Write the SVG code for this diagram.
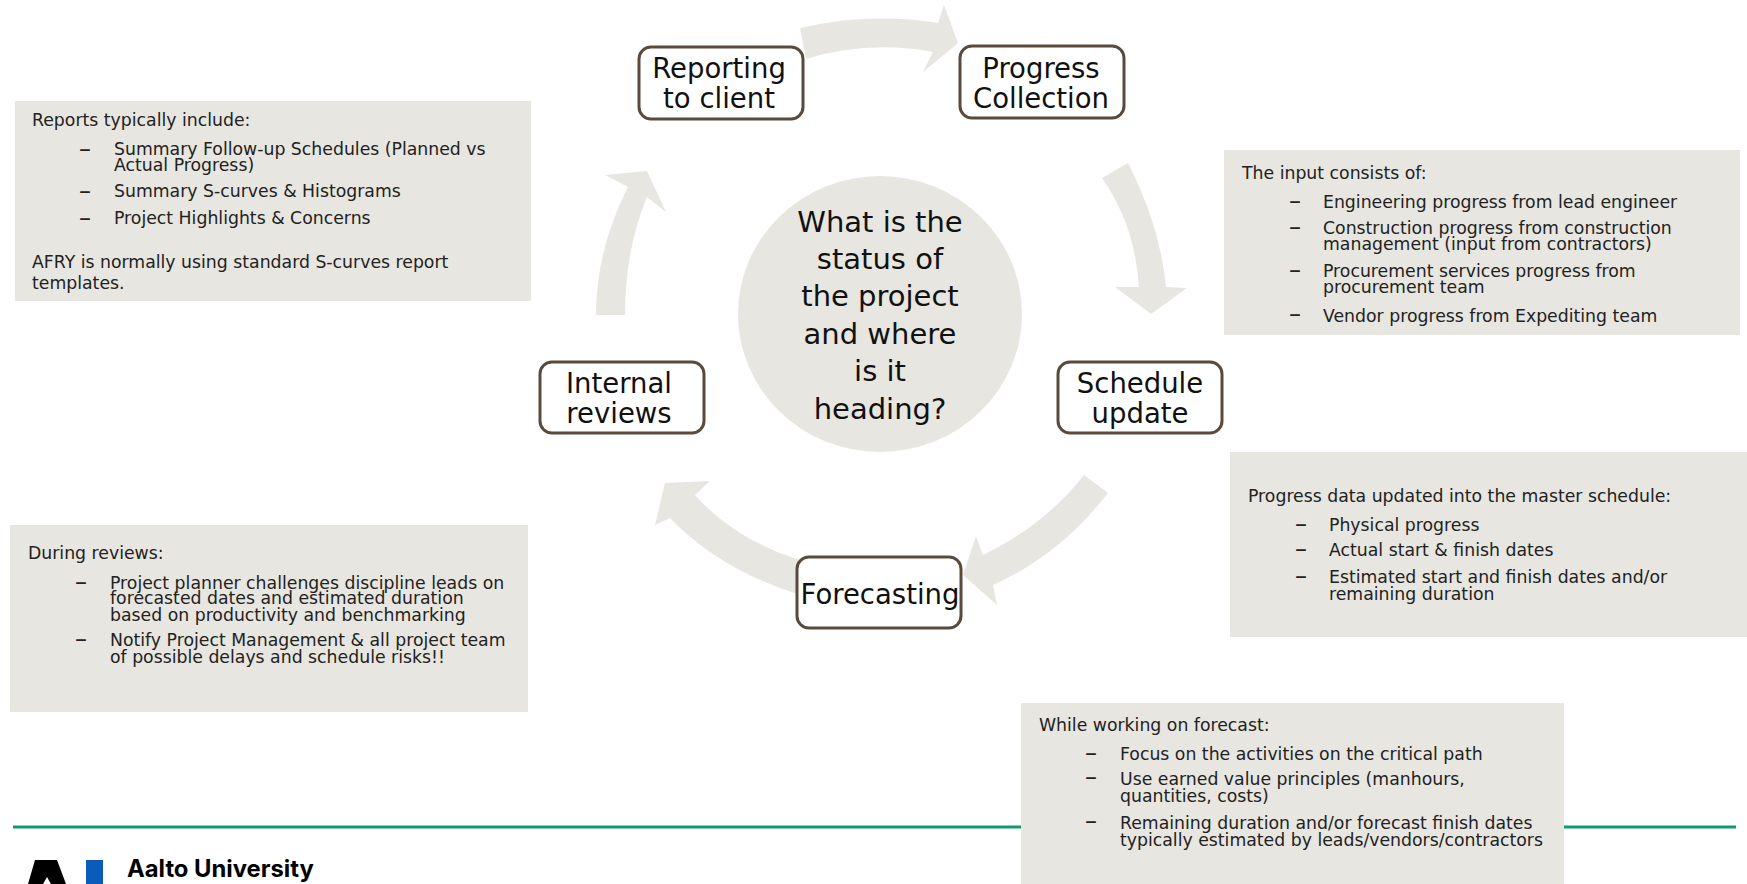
<svg xmlns="http://www.w3.org/2000/svg" width="1747" height="884" viewBox="0 0 1747 884">
<style>
.bg{fill:#e8e6e0}
.n{fill:#fff;stroke:#5a4a3c;stroke-width:3}
.b{font-family:"DejaVu Sans",sans-serif;font-size:27.500px;fill:#111;text-anchor:middle}
.c{font-family:"DejaVu Sans",sans-serif;font-size:29px;fill:#111;text-anchor:middle}
.t{font-family:"DejaVu Sans",sans-serif;font-size:17.300px;fill:#222}
.d{font-family:"DejaVu Sans",sans-serif;font-size:24px;fill:#222}
</style>
<rect width="1747" height="884" fill="#fff"/>
<rect x="13" y="825.500" width="1723" height="3" fill="#109a6e"/>
<g id="connectors" class="bg">
<path d="M800 28Q870 12 938 23L944 5L958 43L923 72L933 52Q868 40 806 59Z"/>
<path d="M1128 163Q1160 225 1166 287L1187 288L1151 314L1115 287L1139 287Q1135 225 1102 178Z"/>
<path d="M1108 493Q1060 555 993 585L997 605L963 575L976 536L983 555Q1045 525 1084 475Z"/>
<path d="M800 560Q735 540 695 495L710 481L665 483L655 525L670 518Q720 570 800 595Z"/>
<path d="M596 315Q596 250 628 187L605 175L647 171L666 212L647 197Q625 250 625 315Z"/>
</g>
<g id="center"><ellipse class="bg" cx="880" cy="314" rx="142" ry="138"/>
<text class="c" x="880" y="232">What is the</text><text class="c" x="880" y="269">status of</text><text class="c" x="880" y="306">the project</text><text class="c" x="880" y="344">and where</text><text class="c" x="880" y="381">is it</text><text class="c" x="880" y="419">heading?</text></g>
<g id="n1"><rect class="n" x="639" y="47" width="164" height="72" rx="12"/><text class="b" x="719" y="78">Reporting</text><text class="b" x="719" y="108">to client</text></g>
<g id="n2"><rect class="n" x="960" y="46" width="164" height="72" rx="12"/><text class="b" x="1041" y="78">Progress</text><text class="b" x="1041" y="108">Collection</text></g>
<g id="n3"><rect class="n" x="1058" y="362" width="164" height="71" rx="12"/><text class="b" x="1140" y="393">Schedule</text><text class="b" x="1140" y="423">update</text></g>
<g id="n4"><rect class="n" x="797" y="557" width="164" height="71" rx="12"/><text class="b" x="880" y="604">Forecasting</text></g>
<g id="n5"><rect class="n" x="540" y="362" width="164" height="71" rx="12"/><text class="b" x="619" y="393">Internal</text><text class="b" x="619" y="423">reviews</text></g>
<g id="box1"><rect class="bg" x="15" y="101" width="516" height="200"/>
<text class="t" x="32" y="126">Reports typically include:</text>
<text class="d" x="79" y="157">–</text><text class="t" x="114" y="155">Summary Follow-up Schedules (Planned vs</text><text class="t" x="114" y="171">Actual Progress)</text>
<text class="d" x="79" y="199">–</text><text class="t" x="114" y="197">Summary S-curves &amp; Histograms</text>
<text class="d" x="79" y="226">–</text><text class="t" x="114" y="224">Project Highlights &amp; Concerns</text>
<text class="t" x="32" y="268">AFRY is normally using standard S-curves report</text><text class="t" x="32" y="289">templates.</text></g>
<g id="box2"><rect class="bg" x="1224" y="150" width="516" height="185"/>
<text class="t" x="1242" y="179">The input consists of:</text>
<text class="d" x="1289" y="209">–</text><text class="t" x="1323" y="208">Engineering progress from lead engineer</text>
<text class="d" x="1289" y="235">–</text><text class="t" x="1323" y="234">Construction progress from construction</text><text class="t" x="1323" y="250">management (input from contractors)</text>
<text class="d" x="1289" y="278">–</text><text class="t" x="1323" y="277">Procurement services progress from</text><text class="t" x="1323" y="293">procurement team</text>
<text class="d" x="1289" y="322">–</text><text class="t" x="1323" y="322">Vendor progress from Expediting team</text></g>
<g id="box3"><rect class="bg" x="1230" y="452" width="517" height="185"/>
<text class="t" x="1248" y="502">Progress data updated into the master schedule:</text>
<text class="d" x="1295" y="532">–</text><text class="t" x="1329" y="531">Physical progress</text>
<text class="d" x="1295" y="557">–</text><text class="t" x="1329" y="556">Actual start &amp; finish dates</text>
<text class="d" x="1295" y="584">–</text><text class="t" x="1329" y="583">Estimated start and finish dates and/or</text><text class="t" x="1329" y="600">remaining duration</text></g>
<g id="box4"><rect class="bg" x="10" y="525" width="518" height="187"/>
<text class="t" x="28" y="559">During reviews:</text>
<text class="d" x="75" y="590">–</text><text class="t" x="110" y="589">Project planner challenges discipline leads on</text><text class="t" x="110" y="604">forecasted dates and estimated duration</text><text class="t" x="110" y="621">based on productivity and benchmarking</text>
<text class="d" x="75" y="647">–</text><text class="t" x="110" y="646">Notify Project Management &amp; all project team</text><text class="t" x="110" y="663">of possible delays and schedule risks!!</text></g>
<g id="box5"><rect class="bg" x="1021" y="703" width="543" height="181"/>
<text class="t" x="1039" y="731">While working on forecast:</text>
<text class="d" x="1085" y="761">–</text><text class="t" x="1120" y="760">Focus on the activities on the critical path</text>
<text class="d" x="1085" y="785">–</text><text class="t" x="1120" y="785">Use earned value principles (manhours,</text><text class="t" x="1120" y="802">quantities, costs)</text>
<text class="d" x="1085" y="829">–</text><text class="t" x="1120" y="829">Remaining duration and/or forecast finish dates</text><text class="t" x="1120" y="846">typically estimated by leads/vendors/contractors</text></g>
<g id="logo"><path d="M35 860H57L66 884H51L47 877L43 884H28Z" fill="#000"/><rect x="86" y="860" width="17" height="24" fill="#0a5cb8"/>
<text x="127" y="877" font-family="Inter,sans-serif" font-weight="700" font-size="23.800px" fill="#000">Aalto University</text></g>
</svg>
